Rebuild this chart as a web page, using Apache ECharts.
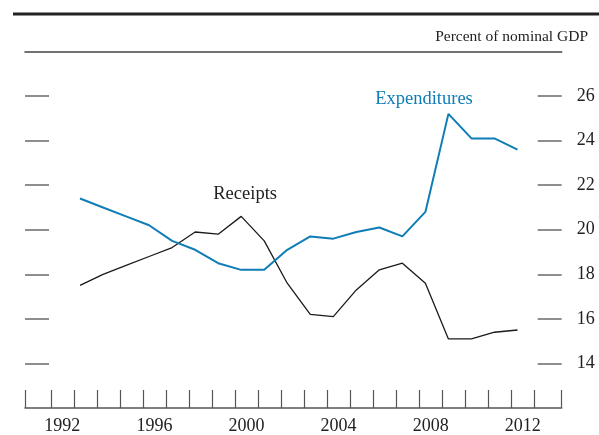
<!DOCTYPE html>
<html>
<head>
<meta charset="utf-8">
<script src="https://cdn.jsdelivr.net/npm/echarts@6/dist/echarts.min.js"></script>
<style>
  html, body { margin: 0; padding: 0; background: #fff; }
  #chart { width: 599px; height: 435px; }
</style>
</head>
<body>
<div id="chart"></div>
<script>
// fiscal years, plotted a quarter into the year
const years = [1993, 1994, 1995, 1996, 1997, 1998, 1999, 2000, 2001, 2002,
  2003, 2004, 2005, 2006, 2007, 2008, 2009, 2010, 2011, 2012]
const receipts = [17.5, 18.0, 18.4, 18.8, 19.2, 19.9, 19.8, 20.6, 19.5, 17.6,
  16.2, 16.1, 17.3, 18.2, 18.5, 17.6, 15.1, 15.1, 15.4, 15.5]
const expenditures = [21.4, 21.0, 20.6, 20.2, 19.5, 19.1, 18.5, 18.2, 18.2, 19.1,
  19.7, 19.6, 19.9, 20.1, 19.7, 20.8, 25.2, 24.1, 24.1, 23.6]
const yTicks = [14, 16, 18, 20, 22, 24, 26]
const yearTicks = [1992, 1993, 1994, 1995, 1996, 1997, 1998, 1999, 2000, 2001, 2002,
  2003, 2004, 2005, 2006, 2007, 2008, 2009, 2010, 2011, 2012, 2013]
const yearLabels = [1992, 1996, 2000, 2004, 2008, 2012]

const xMin = 1990.88
const xMax = 2014.19
const fyOffset = 0.27
const serif = '"Liberation Serif", "DejaVu Serif", serif'

const chart = echarts.init(document.getElementById('chart'))

const yAxisBase = {
  type: 'value',
  min: 12,
  max: 28,
  axisLine: { show: false },
  splitLine: { show: false },
  axisTick: {
    inside: true,
    length: 24,
    customValues: yTicks,
    lineStyle: { color: '#6a6a6a', width: 1.5 }
  }
}

// series name sitting near its line
function nameTag(text, coord, color) {
  return {
    symbol: 'circle',
    symbolSize: 1,
    itemStyle: { color: 'rgba(0,0,0,0)' },
    data: [{ coord: coord }],
    label: {
      show: true,
      position: 'inside',
      formatter: text,
      fontFamily: serif,
      fontSize: 18.5,
      color: color
    }
  }
}

chart.setOption({
  animation: false,
  title: {
    text: 'Percent of nominal GDP',
    right: 6,
    top: 24,
    textStyle: { fontFamily: serif, fontSize: 15.5, fontWeight: 'normal', color: '#222' }
  },
  graphic: [{
    type: 'line',
    shape: { x1: 13, y1: 14, x2: 599, y2: 14 },
    style: { stroke: '#222', lineWidth: 3 }
  }],
  grid: { left: 25, right: 37.3, top: 51.5, bottom: 22.7 },
  xAxis: [
    {
      type: 'value',
      min: xMin,
      max: xMax,
      position: 'bottom',
      splitLine: { show: false },
      axisLine: { lineStyle: { color: '#555', width: 1.5 } },
      axisTick: {
        inside: true,
        length: 18,
        customValues: [xMin].concat(yearTicks, [xMax]),
        lineStyle: { color: '#555', width: 1.2 }
      },
      axisLabel: {
        customValues: yearLabels.map(y => y + 0.5),
        formatter: v => String(Math.floor(v)),
        margin: 9,
        fontFamily: serif,
        fontSize: 18,
        color: '#222'
      }
    },
    {
      type: 'value',
      min: xMin,
      max: xMax,
      position: 'top',
      splitLine: { show: false },
      axisLine: { lineStyle: { color: '#444', width: 1.5 } },
      axisTick: { show: false },
      axisLabel: { show: false }
    }
  ],
  yAxis: [
    Object.assign({}, yAxisBase, { position: 'left', axisLabel: { show: false } }),
    Object.assign({}, yAxisBase, {
      position: 'right',
      axisLabel: {
        customValues: yTicks,
        margin: 15,
        fontFamily: serif,
        fontSize: 18,
        color: '#222'
      }
    })
  ],
  series: [
    {
      name: 'Receipts',
      type: 'line',
      data: years.map((y, i) => [y + fyOffset, receipts[i]]),
      symbol: 'none',
      lineStyle: { color: '#1a1a1a', width: 1.3 },
      markPoint: nameTag('Receipts', [2000.44, 21.6], '#222')
    },
    {
      name: 'Expenditures',
      type: 'line',
      data: years.map((y, i) => [y + fyOffset, expenditures[i]]),
      symbol: 'none',
      lineStyle: { color: '#0f7db6', width: 2 },
      markPoint: nameTag('Expenditures', [2008.21, 25.88], '#0f7db6')
    }
  ]
})
</script>
</body>
</html>
